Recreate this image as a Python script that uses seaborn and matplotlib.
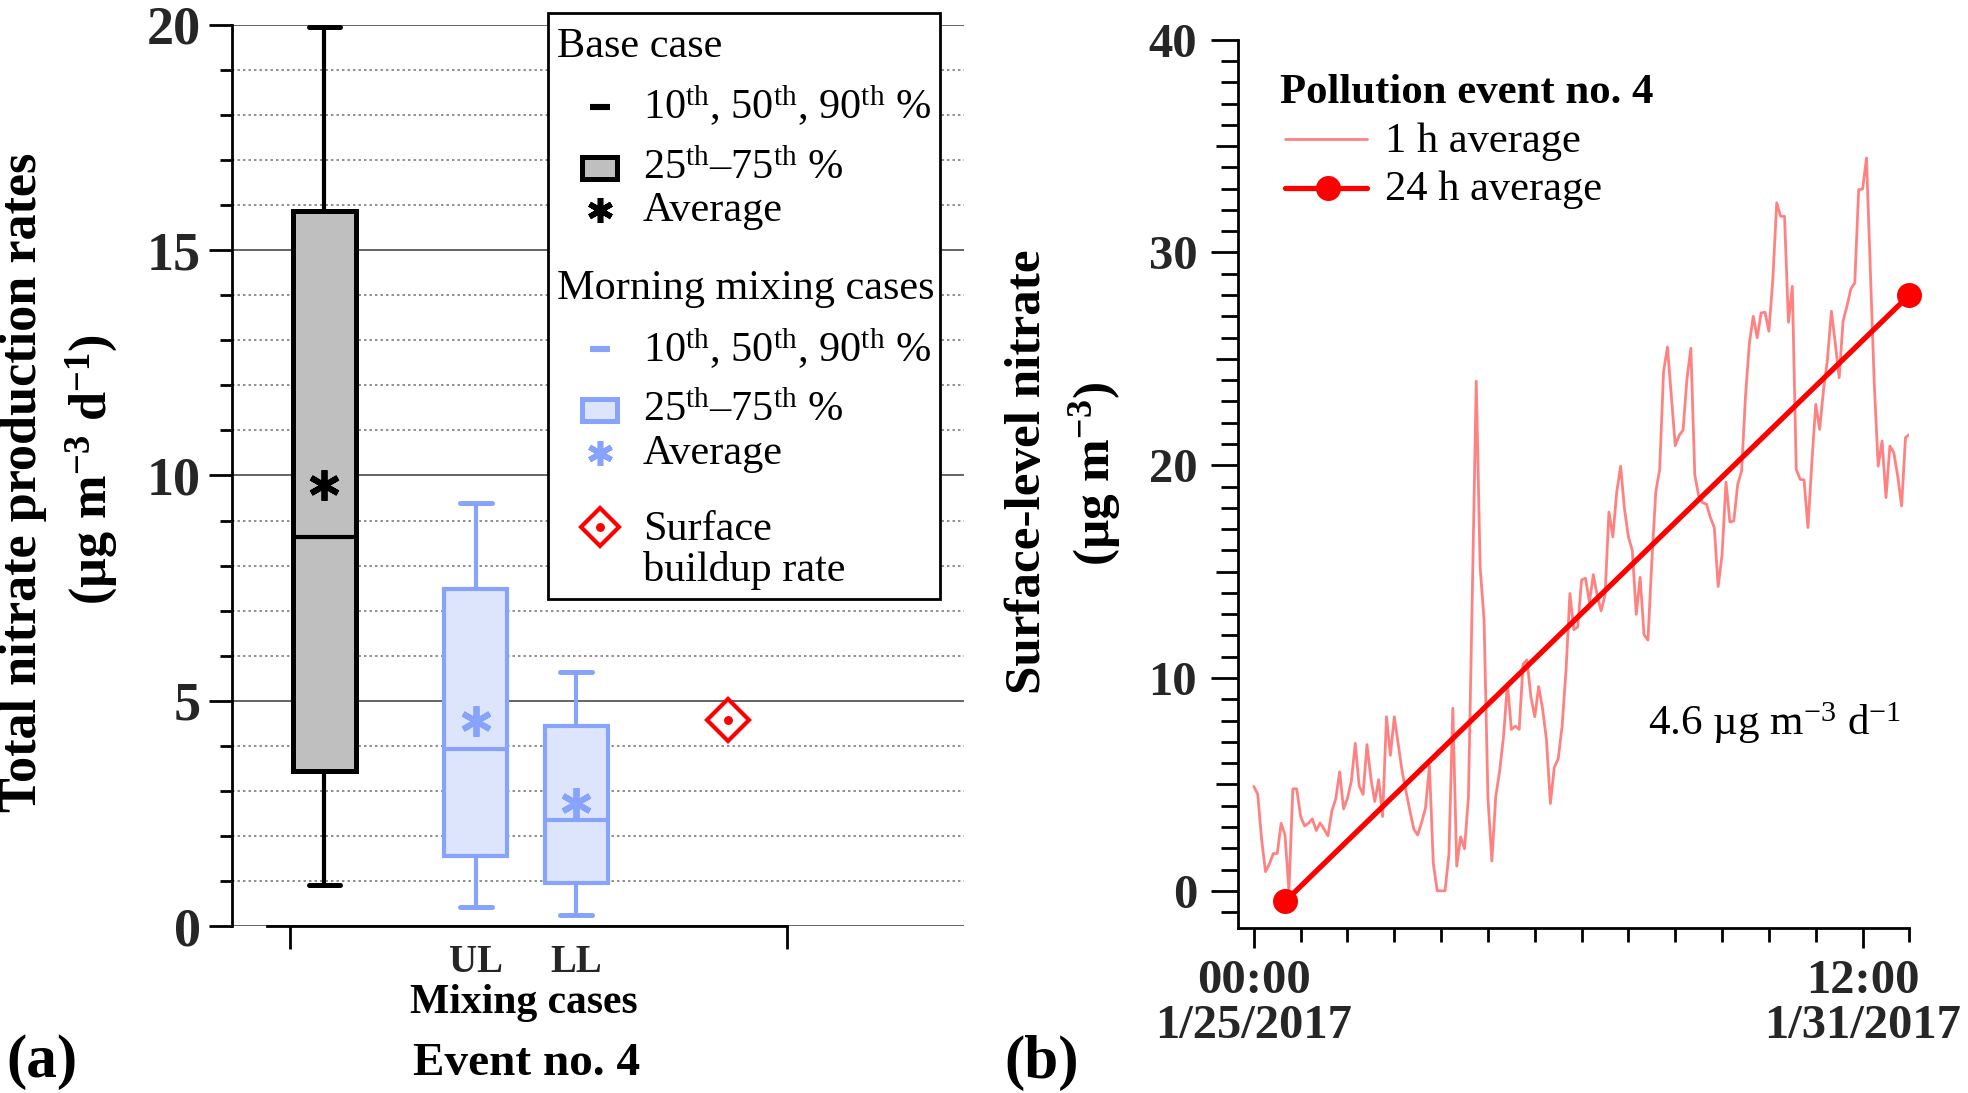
import numpy as np
import matplotlib
matplotlib.use("Agg")
import matplotlib.pyplot as plt
import seaborn as sns
from matplotlib.patches import Rectangle
from matplotlib.ticker import MultipleLocator

# ---------------- data ----------------
cases = ["Base case", "UL", "LL"]
p10 = [0.92, 0.43, 0.24]
p25 = [3.43, 1.56, 0.96]
p50 = [8.63, 3.94, 2.36]
p75 = [15.88, 7.47, 4.45]
p90 = [19.96, 9.38, 5.63]
means = [9.78, 4.55, 2.74]
surface_rate = [4.57]

hours_1h = list(range(0, 169))
nitrate_1h = [
    4.9, 4.55, 2.41, 0.9, 1.26, 1.75, 1.75, 3.17, 2.62, 0.0,
    4.79, 4.79, 3.49, 3.05, 3.17, 3.38, 2.83, 3.19, 2.90, 2.58,
    3.75, 4.32, 5.59, 3.85, 4.35, 5.15, 6.93, 4.93, 4.53, 6.87,
    5.28, 4.20, 5.22, 3.49, 8.18, 6.37, 8.18, 6.89, 5.62, 4.67,
    3.76, 2.90, 2.62, 3.21, 3.89, 5.88, 1.28, 0.0, 0.0, 0.0,
    1.71, 8.58, 1.16, 2.53, 1.98, 4.41, 14.0, 23.95, 15.2, 12.75,
    4.35, 1.4, 4.43, 5.64, 7.26, 9.76, 7.58, 7.74, 7.58, 10.65,
    10.85, 9.12, 8.18, 9.6, 8.55, 7.09, 4.1, 5.8, 6.2, 7.74,
    10.33, 13.97, 12.27, 12.4, 14.61, 14.69, 13.56, 14.86, 13.88, 13.16,
    13.88, 17.8, 16.63, 18.74, 19.95, 17.93, 16.63, 15.99, 12.99, 14.73,
    12.03, 11.78, 15.5, 18.74, 19.79, 24.4, 25.56, 23.26, 20.92, 21.4,
    21.65, 24.07, 25.5, 19.55, 18.56, 18.24, 18.17, 17.54, 17.07, 14.3,
    15.8, 19.21, 17.33, 17.38, 19.1, 19.73, 23.25, 25.75, 27.0, 25.99,
    27.16, 27.19, 26.3, 28.73, 32.33, 31.7, 31.7, 26.72, 28.41, 19.81,
    19.34, 19.31, 17.07, 20.12, 22.86, 21.69, 23.56, 24.97, 27.24, 25.75,
    24.11, 26.77, 27.48, 28.29, 28.57, 32.95, 32.98, 34.44, 29.12, 23.8,
    19.96, 21.14, 18.48, 20.9, 20.59, 19.5, 18.09, 21.3, 21.45,
]
hours_24h = [8, 168]
nitrate_24h = [-0.5, 28.0]

x_tick_hours = [0, 156]
x_tick_labels = ["00:00\n1/25/2017", "12:00\n1/31/2017"]

# ---------------- style ----------------
sns.set_theme(style="white")
plt.rcParams["font.family"] = ["Liberation Serif", "DejaVu Serif"]
plt.rcParams["mathtext.fontset"] = "custom"
plt.rcParams["mathtext.rm"] = "Liberation Serif"
plt.rcParams["mathtext.it"] = "Liberation Serif:italic"
plt.rcParams["mathtext.bf"] = "Liberation Serif:bold"
plt.rcParams["axes.linewidth"] = 1.0
plt.rcParams["text.color"] = "black"

W, H = 1968, 1093
fig = plt.figure(figsize=(W / 200, H / 200), dpi=200)
fig.patch.set_facecolor("white")


def fx(x):
    return x / W


def fy(y):
    return 1 - y / H


GREY_FACE = "#bfbfbf"
BLUE_EDGE = "#88a3fb"
BLUE_FACE = "#dde5fc"
PINK = "#ff8282"
RED = "#ff0000"

# ---------------- panel (a) ----------------
ax1 = fig.add_axes([fx(232), fy(926), (964 - 232) / W, (926 - 25) / H])
ax1.set_facecolor("none")
box_pos = [0.0, 1.0, 1.664]
surf_pos = [2.668]
stats = [dict(label=cases[i], whislo=p10[i], q1=p25[i], med=p50[i], q3=p75[i],
              whishi=p90[i], mean=means[i], fliers=[]) for i in range(3)]

ax1.bxp(stats[:1], positions=box_pos[:1], widths=0.415, capwidths=0.21,
        patch_artist=True, showmeans=True, manage_ticks=False,
        boxprops=dict(facecolor=GREY_FACE, edgecolor="black", linewidth=1.8),
        medianprops=dict(color="black", linewidth=1.5),
        whiskerprops=dict(color="black", linewidth=1.5),
        capprops=dict(color="black", linewidth=1.8),
        meanprops=dict(marker=(6, 2, 0), markersize=11, markeredgecolor="black",
                       markerfacecolor="black", markeredgewidth=2.1, linestyle="none"))
ax1.bxp(stats[1:], positions=box_pos[1:], widths=0.415, capwidths=0.21,
        patch_artist=True, showmeans=True, manage_ticks=False,
        boxprops=dict(facecolor=BLUE_FACE, edgecolor=BLUE_EDGE, linewidth=1.5),
        medianprops=dict(color=BLUE_EDGE, linewidth=1.5),
        whiskerprops=dict(color=BLUE_EDGE, linewidth=1.5),
        capprops=dict(color=BLUE_EDGE, linewidth=1.8),
        meanprops=dict(marker=(6, 2, 0), markersize=11, markeredgecolor=BLUE_EDGE,
                       markerfacecolor=BLUE_EDGE, markeredgewidth=2.1, linestyle="none"))
ax1.plot(surf_pos, surface_rate, linestyle="none", marker="D", markersize=10.5,
         markerfacecolor="white", markeredgecolor=RED, markeredgewidth=1.5, zorder=5)
ax1.plot(surf_pos, surface_rate, linestyle="none", marker="o", markersize=2.2,
         color=RED, zorder=6)

ax1.set_xlim(-0.611, 4.227)
ax1.set_ylim(0, 20)
ax1.yaxis.set_major_locator(MultipleLocator(5))
ax1.yaxis.set_minor_locator(MultipleLocator(1))
ax1.set_axisbelow(True)
ax1.grid(which="major", axis="y", color="#3a3a3a", linewidth=0.55, linestyle="-")
ax1.grid(which="minor", axis="y", color="#707070", linewidth=0.55, linestyle=(0, (1.6, 2.0)))
ax1.grid(which="both", axis="x", visible=False)
for s in ["top", "right"]:
    ax1.spines[s].set_visible(False)
ax1.spines["left"].set_bounds(0, 20)
ax1.spines["bottom"].set_bounds(-0.381, 3.054)
ax1.spines["left"].set_color("black")
ax1.spines["bottom"].set_color("black")
ax1.set_xticks([-0.228, 3.054])
ax1.set_xticklabels(["", ""])
ax1.set_xticks(box_pos[1:], labels=cases[1:], minor=True)
ax1.tick_params(axis="x", which="major", direction="out", length=8.2, width=1.0,
                color="black", bottom=True)
ax1.tick_params(axis="x", which="minor", length=0, pad=6.5, labelsize=14, bottom=True)
ax1.tick_params(axis="y", which="major", direction="out", length=8.3, width=1.0,
                color="black", labelsize=19.5, pad=3, left=True)
ax1.tick_params(axis="y", which="minor", direction="out", length=4.3, width=1.0,
                color="black", left=True)
plt.setp(ax1.get_yticklabels(), fontweight="bold")
plt.setp(ax1.get_xticklabels(minor=True), fontweight="bold")

# ---------------- panel (b) ----------------
ax2 = fig.add_axes([fx(1238), fy(927.6), (1909.4 - 1238) / W, (927.6 - 39.7) / H])
ax2.set_facecolor("none")
sns.lineplot(x=hours_1h, y=nitrate_1h, ax=ax2, color=PINK, linewidth=1.0,
             estimator=None)
sns.lineplot(x=hours_24h, y=nitrate_24h, ax=ax2, color=RED, linewidth=1.9,
             marker="o", markersize=9, markeredgecolor=RED, markeredgewidth=0,
             estimator=None, clip_on=False)
ax2.set_xlim(-4.05, 168)
ax2.set_ylim(-1.73, 40)
ax2.set_xlabel("")
ax2.set_ylabel("")
for s in ["top", "right"]:
    ax2.spines[s].set_visible(False)
ax2.spines["left"].set_color("black")
ax2.spines["bottom"].set_color("black")
ax2.set_xticks(x_tick_hours, labels=x_tick_labels)
ax2.set_xticks(np.arange(0, 169, 12), minor=True)
ax2.set_yticks([0, 10, 20, 30, 40])
ax2.yaxis.set_minor_locator(MultipleLocator(1))
ax2.tick_params(axis="x", which="major", direction="out", length=7.2, width=1.0,
                color="black", labelsize=17.5, pad=4, bottom=True)
ax2.tick_params(axis="x", which="minor", direction="out", length=5.0, width=1.0,
                color="black", bottom=True)
ax2.tick_params(axis="y", which="major", direction="out", length=9.7, width=1.0,
                color="black", labelsize=17.5, pad=5, left=True)
ax2.tick_params(axis="y", which="minor", direction="out", length=6.0, width=1.0,
                color="black", left=True)
plt.setp(ax2.get_yticklabels(), fontweight="bold")
plt.setp(ax2.get_xticklabels(), fontweight="bold", linespacing=1.05)
mlocs = ax2.yaxis.get_minorticklocs()
for loc, tk in zip(mlocs, ax2.yaxis.get_minor_ticks(len(mlocs))):
    if abs(loc % 10 - 5) < 1e-6:
        tk.tick1line.set_markersize(8.0)

# ---------------- text ----------------
bold = dict(fontweight="bold")
fig.text(fx(23), fy(482), "Total nitrate production rates", rotation=90,
         ha="center", va="center", fontsize=18.8, **bold)
fig.text(fx(92), fy(470), r"(µg m$^{\mathregular{-3}}$ d$^{\mathregular{-1}}$)",
         rotation=90, ha="center", va="center", fontsize=18.8, **bold)
fig.text(fx(524), fy(1012.5), "Mixing cases", ha="center", va="baseline",
         fontsize=15, **bold)
fig.text(fx(527), fy(1075), "Event no. 4", ha="center", va="baseline",
         fontsize=17, **bold)
fig.text(fx(42), fy(1062), "(a)", ha="center", va="center", fontsize=22, **bold)
fig.text(fx(1042), fy(1063), "(b)", ha="center", va="center", fontsize=22, **bold)
fig.text(fx(1028), fy(472), "Surface-level nitrate", rotation=90, ha="center",
         va="center", fontsize=18.4, **bold)
fig.text(fx(1095), fy(474), r"(µg m$^{\mathregular{-3}}$)", rotation=90,
         ha="center", va="center", fontsize=18.4, **bold)

# overlay for legends
ov = fig.add_axes([0, 0, 1, 1], zorder=10)
ov.set_xlim(0, W)
ov.set_ylim(H, 0)
ov.set_axis_off()
ov.patch.set_alpha(0)

# legend (a)
ov.add_patch(Rectangle((548, 12.5), 392, 586.5, facecolor="white",
                       edgecolor="black", linewidth=1.0))
fs = 15.2
th = r"$^{\mathregular{th}}$"
ov.text(557, 57, "Base case", fontsize=fs, va="baseline")
ov.plot([590, 610], [106.5, 106.5], color="black", linewidth=2.2, solid_capstyle="butt")
ov.text(643, 119, f"10{th}, 50{th}, 90{th} %", fontsize=fs, va="baseline")
ov.add_patch(Rectangle((582, 157), 35, 22, facecolor=GREY_FACE, edgecolor="black",
                       linewidth=1.8))
ov.text(643, 179, f"25{th}–75{th} %", fontsize=fs, va="baseline")
ov.plot([599.5], [209.7], marker=(6, 2, 0), markersize=9, color="black",
        markeredgewidth=2.0, linestyle="none")
ov.text(643, 221, "Average", fontsize=fs, va="baseline")
ov.text(557, 298.5, "Morning mixing cases", fontsize=fs, va="baseline")
ov.plot([590, 610], [349, 349], color=BLUE_EDGE, linewidth=2.2, solid_capstyle="butt")
ov.text(643, 362, f"10{th}, 50{th}, 90{th} %", fontsize=fs, va="baseline")
ov.add_patch(Rectangle((582, 399), 35, 22, facecolor=BLUE_FACE, edgecolor=BLUE_EDGE,
                       linewidth=1.8))
ov.text(643, 421, f"25{th}–75{th} %", fontsize=fs, va="baseline")
ov.plot([599.5], [452.6], marker=(6, 2, 0), markersize=9, color=BLUE_EDGE,
        markeredgewidth=2.0, linestyle="none")
ov.text(643, 464, "Average", fontsize=fs, va="baseline")
ov.plot([599.5], [527], marker="D", markersize=9.5, markerfacecolor="white",
        markeredgecolor=RED, markeredgewidth=1.5, linestyle="none")
ov.plot([599.5], [527], marker="o", markersize=2.2, color=RED, linestyle="none")
ov.text(643, 540, "Surface", fontsize=fs, va="baseline")
ov.text(643, 581, "buildup rate", fontsize=fs, va="baseline")

# legend (b)
ov.text(1280, 103, "Pollution event no. 4", fontsize=15.4, va="baseline", **bold)
ov.plot([1285, 1367], [139, 139], color=PINK, linewidth=1.0)
ov.text(1385, 152, "1 h average", fontsize=15.3, va="baseline")
ov.plot([1285, 1367], [188, 188], color=RED, linewidth=1.9)
ov.plot([1328], [188], marker="o", markersize=9, color=RED, markeredgewidth=0,
        linestyle="none")
ov.text(1385, 200, "24 h average", fontsize=15.3, va="baseline")
ov.text(1648, 735, r"4.6 µg m$^{\mathregular{-3}}$ d$^{\mathregular{-1}}$",
        fontsize=15.5, va="baseline")

fig.savefig("out.png", dpi=200, facecolor="white")
